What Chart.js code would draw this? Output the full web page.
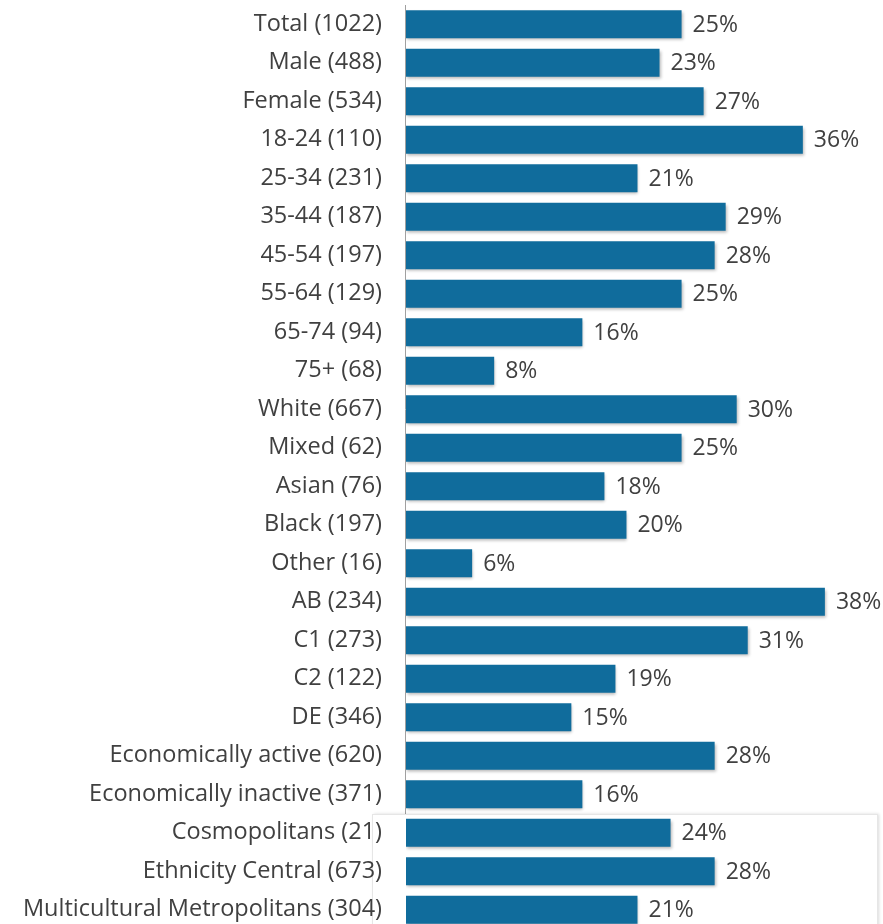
<!DOCTYPE html>
<html>
<head>
<meta charset="utf-8">
<script src="https://cdn.jsdelivr.net/npm/chart.js@4"></script>
<style>
  html, body { margin: 0; padding: 0; background: #fff; overflow: hidden; }
  canvas { display: block; }
</style>
</head>
<body>
<canvas id="myChart" width="883" height="934"></canvas>
<script>
var groups = [
  'Total (1022)', 'Male (488)', 'Female (534)', '18-24 (110)', '25-34 (231)',
  '35-44 (187)', '45-54 (197)', '55-64 (129)', '65-74 (94)', '75+ (68)',
  'White (667)', 'Mixed (62)', 'Asian (76)', 'Black (197)', 'Other (16)',
  'AB (234)', 'C1 (273)', 'C2 (122)', 'DE (346)',
  'Economically active (620)', 'Economically inactive (371)',
  'Cosmopolitans (21)', 'Ethnicity Central (673)', 'Multicultural Metropolitans (304)'
];
var percents = [25, 23, 27, 36, 21, 29, 28, 25, 16, 8, 30, 25, 18, 20, 6, 38, 31, 19, 15, 28, 16, 24, 28, 21];

var fontFamily = "'Open Sans', 'Noto Sans', sans-serif";
var textColor = '#404040';
var panelFrom = 21; // first row sitting on the white panel

var barExtras = {
  id: 'barExtras',
  // axis line + white panel go under the labels
  beforeDraw: function (chart) {
    var ctx = chart.ctx;
    var y = chart.scales.y;
    var x = chart.scales.x;
    var step = y.getPixelForValue(1) - y.getPixelForValue(0);
    var top = Math.round(y.getPixelForValue(panelFrom) - step / 2);
    ctx.save();
    ctx.strokeStyle = '#a0a0a0';
    ctx.lineWidth = 1;
    ctx.beginPath();
    ctx.moveTo(x.left - 0.5, chart.chartArea.top);
    ctx.lineTo(x.left - 0.5, top);
    ctx.stroke();

    ctx.shadowColor = 'rgba(0,0,0,0.15)';
    ctx.shadowOffsetX = 2;
    ctx.shadowBlur = 3;
    ctx.fillStyle = '#fff';
    ctx.fillRect(x.left - 34, top, 505, chart.height - top + 10);
    ctx.shadowColor = 'transparent';
    ctx.strokeStyle = '#e6e6e6';
    ctx.strokeRect(x.left - 34 + 0.5, top + 0.5, 505, chart.height - top + 10);
    ctx.restore();
  },
  beforeDatasetsDraw: function (chart) {
    var ctx = chart.ctx;
    ctx.save();
    ctx.shadowColor = 'rgba(0,0,0,0.28)';
    ctx.shadowOffsetX = 1;
    ctx.shadowOffsetY = 2;
    ctx.shadowBlur = 3;
  },
  afterDatasetsDraw: function (chart) {
    var ctx = chart.ctx;
    ctx.restore();
    ctx.save();
    ctx.font = '23px ' + fontFamily;
    ctx.fillStyle = textColor;
    ctx.textAlign = 'left';
    ctx.textBaseline = 'middle';
    chart.getDatasetMeta(0).data.forEach(function (bar, i) {
      ctx.fillText(percents[i] + '%', bar.x + 11, bar.y + 1);
    });
    ctx.restore();
  }
};

var chartCanvas = document.getElementById('myChart');
var chart = new Chart(chartCanvas, {
  type: 'bar',
  data: {
    labels: groups,
    datasets: [{
      data: percents,
      backgroundColor: '#106c9c',
      borderWidth: 0,
      barPercentage: 0.73,
      categoryPercentage: 1
    }]
  },
  options: {
    indexAxis: 'y',
    responsive: false,
    animation: false,
    layout: { padding: { top: 5, bottom: 5, left: 0, right: 3 } },
    plugins: {
      legend: { display: false },
      tooltip: { enabled: false }
    },
    scales: {
      x: {
        display: false,
        min: 0,
        max: 43
      },
      y: {
        grid: { display: false, drawTicks: false },
        border: { display: false },
        ticks: {
          color: textColor,
          padding: 24,
          autoSkip: false,
          font: { family: fontFamily, size: 23.5 }
        },
        afterFit: function (scale) {
          scale.width = 406;
          scale.paddingTop = 0;
          scale.paddingBottom = 0;
        }
      }
    }
  },
  plugins: [barExtras]
});
</script>
</body>
</html>
